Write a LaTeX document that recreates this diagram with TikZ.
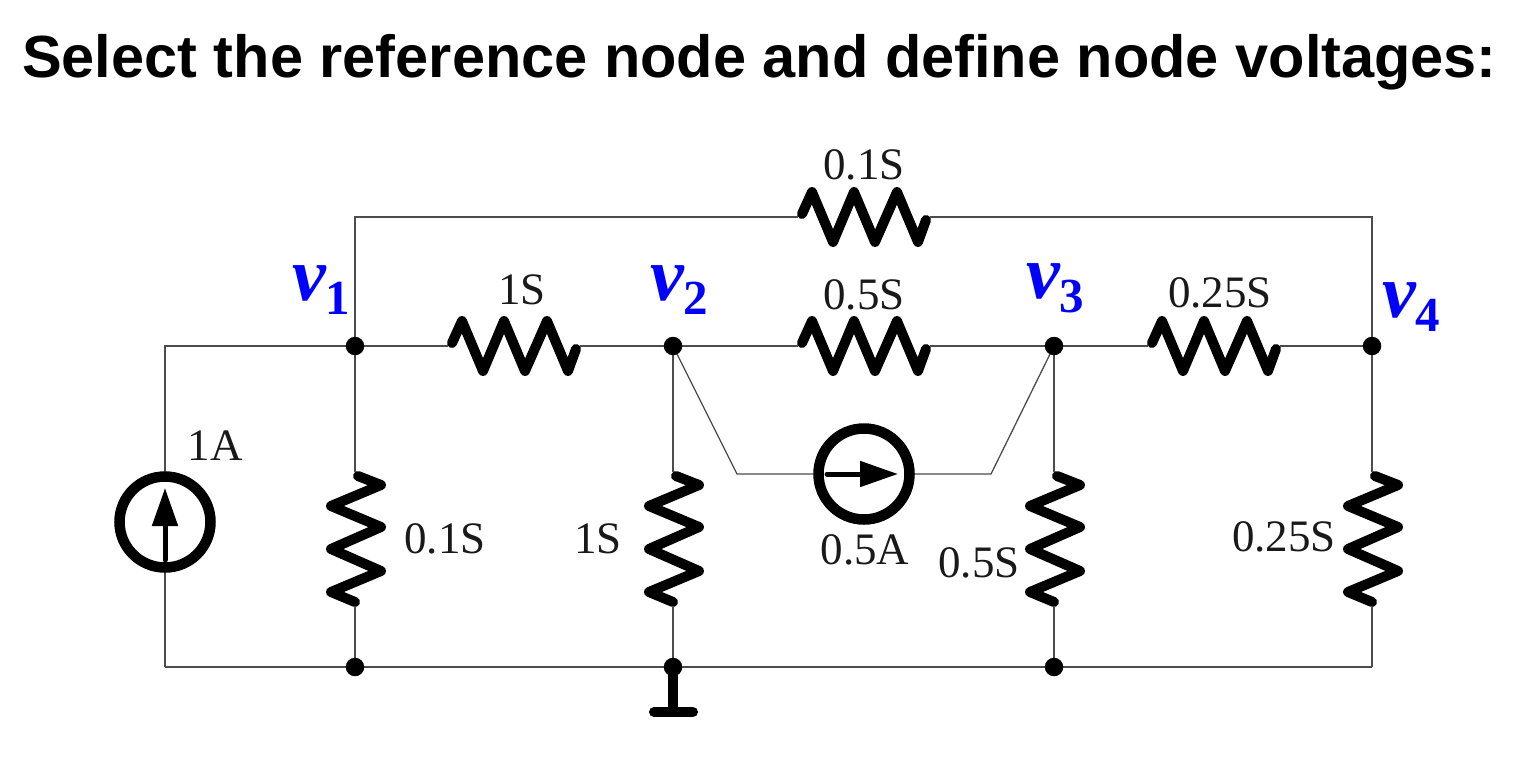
\documentclass[tikz,border=0pt]{standalone}
\usepackage{fontspec}
\setmainfont{Liberation Serif}
\newfontfamily\titlefont{Liberation Sans}
\usetikzlibrary{arrows.meta}
\definecolor{wirecol}{gray}{0.3}
\tikzset{
  x=1pt,y=-1pt,
  wire/.style={draw=wirecol,line width=1.3pt,line join=miter},
  zig/.style={draw=black,line width=10pt,line cap=round,line join=round},
  dot/.style={circle,fill=black,inner sep=0pt,minimum size=18.5pt},
  val/.style={font=\fontsize{45}{45}\selectfont,text=black!90,anchor=base,inner sep=0pt},
  volt/.style={font=\fontsize{76}{76}\selectfont\bfseries\itshape,text=blue,anchor=base west,inner sep=0pt},
  src/.style={circle,draw=black,line width=10.5pt,fill=white,inner sep=0pt,minimum size=91pt,outer sep=0pt},
  srcarrow/.style={draw=black,line width=5pt,line cap=round,-{Triangle[length=38pt,width=25pt,sep=0pt]}},
  hres/.pic={
    \coordinate (-a) at (-66,0); \coordinate (-b) at (66,0);
    \draw[zig] (-62,-3)--(-52,-25)--(-31,25)--(-10,-25)--(11,25)--(33,-25)--(54,25)--(62,3);
  },
  vres/.pic={
    \coordinate (-a) at (0,-67); \coordinate (-b) at (0,67);
    \draw[zig] (3,-63)--(26,-54)--(-24,-33)--(26,-12)--(-24,10)--(26,32)--(-24,53)--(0,63);
  }
}
\newcommand{\voltlabel}[3]{\node[volt] (#1) at (#2) {v\raisebox{-14pt}{\fontsize{49}{49}\selectfont\bfseries\upshape #3}};}
\begin{document}
\begin{tikzpicture}
\useasboundingbox (0,0) rectangle (1513,766);
\node[font=\titlefont\bfseries\fontsize{59.5}{60}\selectfont,anchor=base west,inner sep=0pt] (title) at (22,77) {Select the reference node and define node voltages:};

% corners and junctions
\coordinate (tl) at (355,217); \coordinate (tr) at (1372,217);
\coordinate (ml) at (165,346); \coordinate (bl) at (165,667); \coordinate (br) at (1372,667);
\coordinate (sl) at (737,474); \coordinate (sr) at (991,474);
\coordinate (gnd) at (673,712);
\coordinate (gndl) at (654,712); \coordinate (gndr) at (693,712);

% components
\pic (R1) at (864,217) {hres};
\pic (R2) at (514,346) {hres};
\pic (R3) at (864,346) {hres};
\pic (R4) at (1214,346) {hres};
\pic (R5) at (355,539) {vres};
\pic (R6) at (673,539) {vres};
\pic (R7) at (1054,539) {vres};
\pic (R8) at (1372,539) {vres};

\path (355,346) coordinate (n1) (673,346) coordinate (n2) (1054,346) coordinate (n3) (1372,346) coordinate (n4)
      (355,667) coordinate (g1) (673,667) coordinate (g2) (1054,667) coordinate (g3);

% wires
\draw[wire] (n1) -- (tl) -- (R1-a);
\draw[wire] (R1-b) -- (tr) -- (n4);
\draw[wire] (bl) -- (ml) -- (n1) -- (R2-a);
\draw[wire] (R2-b) -- (n2) -- (R3-a);
\draw[wire] (R3-b) -- (n3) -- (R4-a);
\draw[wire] (R4-b) -- (n4);
\draw[wire] (n1) -- (R5-a); \draw[wire] (R5-b) -- (g1);
\draw[wire] (n2) -- (R6-a); \draw[wire] (R6-b) -- (g2);
\draw[wire] (n3) -- (R7-a); \draw[wire] (R7-b) -- (g3);
\draw[wire] (n4) -- (R8-a); \draw[wire] (R8-b) -- (br);
\draw[wire] (bl) -- (br);
\draw[wire] (n2) -- (sl) -- (sr) -- (n3);

% sources
\node[src] (I1) at (165,522) {};
\node[src] (I2) at (864,474) {};
\coordinate (I1s) at (165,560); \coordinate (I1t) at (165,488);
\coordinate (I2s) at (827,474); \coordinate (I2t) at (898,474);
\draw[srcarrow] (I1s) -- (I1t);
\draw[srcarrow] (I2s) -- (I2t);

% ground
\draw[black,line width=10pt] (g2) -- (gnd);
\draw[black,line width=10pt,line cap=round] (gndl) -- (gndr);

% junction dots
\foreach \p in {n1,n2,n3,n4,g1,g2,g3} \node[dot] (dot\p) at (\p) {};

% values
\node[val] (l1) at (864,179) {0.1S};
\node[val] (l2) at (522,304) {1S};
\node[val] (l3) at (864,309) {0.5S};
\node[val] (l4) at (1220,307) {0.25S};
\node[val] (l5) at (215,460) {1A};
\node[val] (l6) at (445,553) {0.1S};
\node[val] (l7) at (598,553) {1S};
\node[val] (l8) at (865,564) {0.5A};
\node[val] (l9) at (979,577) {0.5S};
\node[val] (l10) at (1284,551) {0.25S};

% node voltages
\voltlabel{v1}{292,300}{1}
\voltlabel{v2}{650,300}{2}
\voltlabel{v3}{1026,298}{3}
\voltlabel{v4}{1382,317}{4}
\end{tikzpicture}
\end{document}
